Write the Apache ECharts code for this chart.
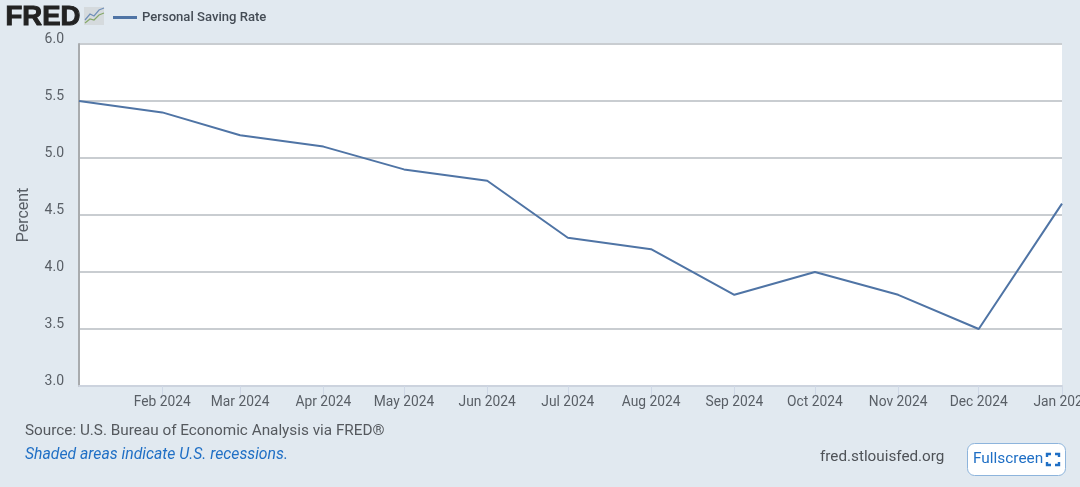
<!DOCTYPE html>
<html><head><meta charset="utf-8">
<style>html,body{margin:0;padding:0;background:#e1e9f0;overflow:hidden}#c{width:1080px;height:487px}</style>
<script src="https://cdn.jsdelivr.net/npm/echarts@6/dist/echarts.min.js"></script>
</head><body><div id="c"></div>
<script>
const dates=["2024-01-01","2024-02-01","2024-03-01","2024-04-01","2024-05-01","2024-06-01","2024-07-01","2024-08-01","2024-09-01","2024-10-01","2024-11-01","2024-12-01","2025-01-01"];
const values=[5.5,5.4,5.2,5.1,4.9,4.8,4.3,4.2,3.8,4.0,3.8,3.5,4.6];
const seriesName="Personal Saving Rate";
const yTitle="Percent";
const monthNames=["Jan","Feb","Mar","Apr","May","Jun","Jul","Aug","Sep","Oct","Nov","Dec"];
const sourceText="Source: U.S. Bureau of Economic Analysis via FRED®";
const noteText="Shaded areas indicate U.S. recessions.";
const siteText="fred.stlouisfed.org";
const buttonText="Fullscreen";
const F="Roboto, sans-serif";
const utc=s=>{const [y,m,d]=s.split('-').map(Number);return Date.UTC(y,m-1,d);};
const chart=echarts.init(document.getElementById('c'),null,{renderer:'canvas'});
chart.setOption({
 animation:false,
 backgroundColor:'#e1e9f0',
 grid:{left:79,right:18,top:44,bottom:101,backgroundColor:'#fff',show:true,borderWidth:0,outerBoundsMode:'none'},
 legend:{show:true,left:108,top:6,itemWidth:24,itemHeight:3,icon:'rect',itemGap:6,
   data:[seriesName],textStyle:{fontFamily:F,fontSize:13.1,color:'#444c55',fontWeight:500}},
 xAxis:{type:'value',min:utc(dates[0]),max:utc(dates[dates.length-1]),
   axisLine:{show:true,lineStyle:{color:'#ccd3de',width:2}},
   axisTick:{show:true,length:10,lineStyle:{color:'#cfd8e6',width:1},customValues:dates.slice(1).map(utc)},
   splitLine:{show:false},
   axisLabel:{hideOverlap:false,showMinLabel:true,showMaxLabel:true,margin:10,fontFamily:F,fontSize:13.8,color:'#595f66',
     customValues:dates.slice(1).map(utc),
     formatter:v=>{const d=new Date(v);return monthNames[d.getUTCMonth()]+' '+d.getUTCFullYear();}}
 },
 yAxis:{type:'value',min:3,max:6,interval:0.5,name:yTitle,nameLocation:'middle',nameGap:47,nameRotate:90,
   nameTextStyle:{fontFamily:F,fontSize:16,color:'#595f66'},
   axisLine:{show:true,lineStyle:{color:'#a8abae',width:2}},
   axisTick:{show:false},
   splitLine:{show:true,lineStyle:{color:'#c9cdd1',width:2}},
   axisLabel:{margin:15,fontFamily:F,fontSize:14,color:'#595f66',verticalAlign:'bottom',lineHeight:10,
     formatter:v=>v.toFixed(1)}
 },
 series:[{name:seriesName,type:'line',data:dates.map((d,i)=>[utc(d),values[i]]),showSymbol:false,symbol:'none',clip:false,
   lineStyle:{color:'#4f74a5',width:2},itemStyle:{color:'#4f74a5'}}],
 graphic:[
  {type:'text',left:5,top:3,style:{text:'FRED',fontFamily:'Liberation Sans, sans-serif',fontWeight:900,fontSize:27.5,fill:'#222',stroke:'#222',lineWidth:1}},
  {type:'rect',shape:{x:84,y:7,width:20,height:18},style:{fill:'#d5dadd'}},
  {type:'polyline',shape:{points:[[85,20],[90,14],[94,16],[99,10],[104,8]]},style:{stroke:'#6f8fb8',lineWidth:1.2,fill:null}},
  {type:'polyline',shape:{points:[[85,23],[90,19],[94,20],[99,15],[104,13]]},style:{stroke:'#86a86a',lineWidth:1.2,fill:null}},
  {type:'text',left:25,top:424,style:{text:sourceText,fontFamily:F,fontSize:15.3,fill:'#55595e'}},
  {type:'text',left:25,top:447,style:{text:noteText,fontFamily:F,fontSize:15.75,fontStyle:'italic',fill:'#1f6fc5'}},
  {type:'text',left:820,top:450,style:{text:siteText,fontFamily:F,fontSize:15.25,fill:'#4e5257'}},
  {type:'rect',shape:{x:967.5,y:443.5,width:98,height:32,r:7},style:{fill:'#fff',stroke:'#8db4dc',lineWidth:1}},
  {type:'text',left:973,top:452,style:{text:buttonText,fontFamily:F,fontSize:15.4,fill:'#1f6fc5'}},
  {type:'polyline',shape:{points:[[1047,457],[1047,454],[1051,454]]},style:{stroke:'#1f6fc5',lineWidth:2.4,fill:null}},
  {type:'polyline',shape:{points:[[1055,454],[1059,454],[1059,457]]},style:{stroke:'#1f6fc5',lineWidth:2.4,fill:null}},
  {type:'polyline',shape:{points:[[1047,462],[1047,465],[1051,465]]},style:{stroke:'#1f6fc5',lineWidth:2.4,fill:null}},
  {type:'polyline',shape:{points:[[1055,465],[1059,465],[1059,462]]},style:{stroke:'#1f6fc5',lineWidth:2.4,fill:null}}
 ]
});
</script></body></html>
